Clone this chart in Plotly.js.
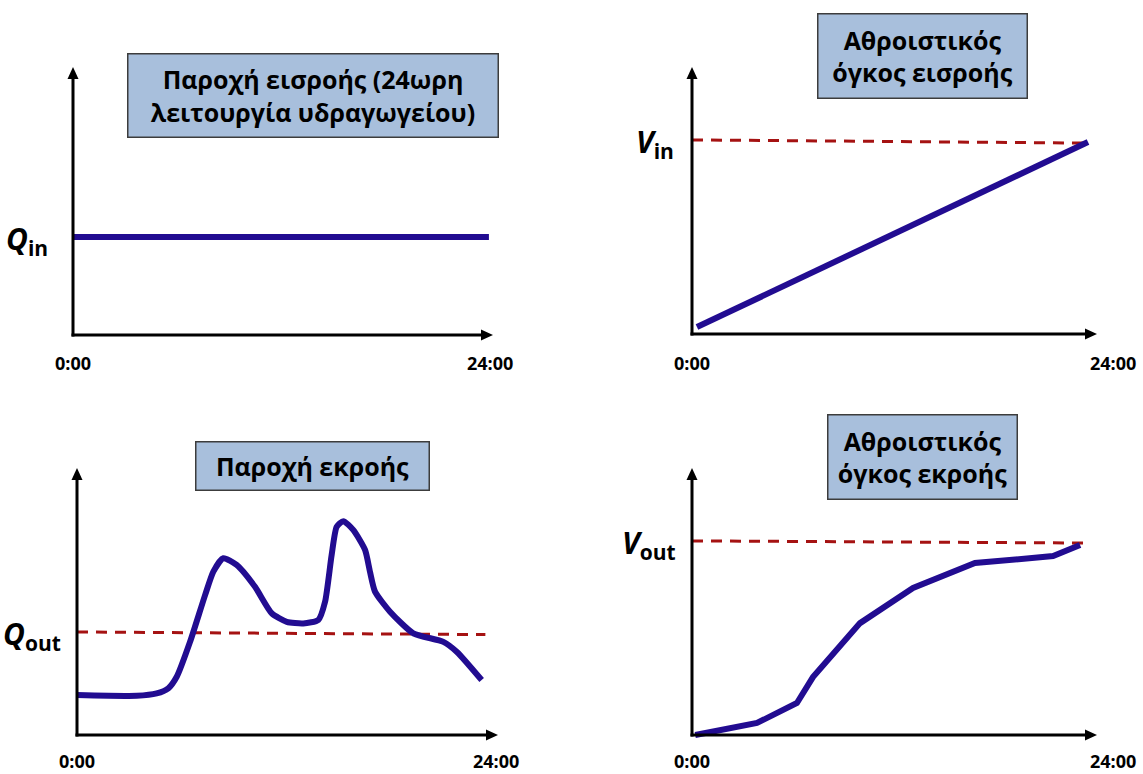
<!DOCTYPE html>
<html>
<head>
<meta charset="utf-8">
<script src="https://cdn.plot.ly/plotly-3.0.1.min.js"></script>
<style>html,body{margin:0;padding:0;background:#fff;}#chart{width:1143px;height:774px;}</style>
</head>
<body>
<div id="chart"></div>
<script>
// ---------- DATA ----------
const tickLabels = ['0:00', '24:00'];
const tickHours = [0, 24];

const panelTitles = [
  'Παροχή εισροής (24ωρη<br>λειτουργία υδραγωγείου)',
  'Αθροιστικός<br>όγκος εισροής',
  'Παροχή εκροής',
  'Αθροιστικός<br>όγκος εκροής'
];
const levelSymbols = ['Q', 'V', 'Q', 'V'];
const levelSubscripts = ['in', 'in', 'out', 'out'];

// Panel 1: inflow rate (constant)
const qInHours = [0, 24];
const qInValues = [36.6, 36.6];

// Panel 2: cumulative inflow volume
const vInHours = [0.3, 24];
const vInValues = [2.6, 71.9];
const vInRefHours = [0, 24];
const vInRefValues = [72.7, 71.5];

// Panel 3: outflow rate
const qOutHours = [0, 3.54, 4.72, 5.41, 5.91, 6.70, 7.59, 8.08, 8.67, 9.46, 10.55, 11.54, 12.43, 13.41, 14.30, 14.70, 15.09, 15.39, 15.78, 16.37, 17.07, 17.36, 17.66, 18.55, 19.93, 21.71, 22.50, 23.98];
const qOutValues = [15.0, 14.7, 15.6, 17.5, 21.8, 34.9, 52.4, 61.2, 66.2, 63.7, 55.5, 45.6, 42.4, 41.8, 43.1, 49.9, 67.4, 78.0, 80.1, 76.8, 69.3, 61.2, 53.7, 46.2, 38.1, 34.9, 31.2, 20.6];
const qOutRefHours = [0, 24.2];
const qOutRefValues = [38.6, 37.6];

// Panel 4: cumulative outflow volume
const vOutHours = [0.2, 4.02, 6.49, 7.48, 10.39, 13.67, 17.50, 22.33, 24];
const vOutValues = [0, 4.5, 12.0, 21.7, 41.9, 55.1, 64.4, 67.0, 71.2];
const vOutRefHours = [0, 24.4];
const vOutRefValues = [72.7, 71.9];

// ---------- LAYOUT GEOMETRY (pixels) ----------
const W = 1143, H = 774;
const geom = [
  {x0: 73,  y0: 335, sx: 17.33,  sy: 2.68, tipX: 493,  tipY: 67,  lab24: 490,  labY: 363, lvlX: 50,  box: {cx: 313,   cy: 95.5, w: 372, h: 85}},
  {x0: 692, y0: 334, sx: 16.5,   sy: 2.67, tipX: 1097, tipY: 67,  lab24: 1113, labY: 363, lvlX: 676, box: {cx: 922.5, cy: 56,   w: 211, h: 86}},
  {x0: 77,  y0: 735, sx: 16.875, sy: 2.67, tipX: 498,  tipY: 468, lab24: 496,  labY: 761, lvlX: 63,  box: {cx: 312.5, cy: 466,  w: 235, h: 50}},
  {x0: 692, y0: 735, sx: 16.17,  sy: 2.67, tipX: 1097, tipY: 468, lab24: 1113, labY: 761, lvlX: 678, box: {cx: 922.5, cy: 457,  w: 191, h: 86}}
];
const levelValues = [qInValues[0], vInRefValues[0], qOutRefValues[0], vOutRefValues[0]];

const FONT = 'Open Sans, Noto Sans, DejaVu Sans, sans-serif';
const CURVE = '#220C91';
const REF = '#A51212';
const BOX_FILL = '#A8BFDC';
const BOX_LINE = '#3C3C3C';
const HEAD_LEN = 12, HEAD_HALF = 5.5, AXIS_W = 3;

const layout = {
  width: W, height: H,
  margin: {l: 0, r: 0, t: 0, b: 0},
  paper_bgcolor: '#ffffff', plot_bgcolor: 'rgba(0,0,0,0)',
  showlegend: false, hovermode: false,
  annotations: [], shapes: []
};

geom.forEach((g, i) => {
  const n = i === 0 ? '' : String(i + 1);
  const xL = g.x0 - 12, xR = g.tipX + 12, yT = g.tipY - 12, yB = g.y0 + 12;
  const axCommon = {visible: false, showgrid: false, zeroline: false, fixedrange: true};
  layout['xaxis' + n] = Object.assign({}, axCommon, {
    domain: [xL / W, xR / W],
    range: [(xL - g.x0) / g.sx, (xR - g.x0) / g.sx],
    anchor: 'y' + n
  });
  layout['yaxis' + n] = Object.assign({}, axCommon, {
    domain: [(H - yB) / H, (H - yT) / H],
    range: [(g.y0 - yB) / g.sy, (g.y0 - yT) / g.sy],
    anchor: 'x' + n
  });
  const xr = 'x' + n, yr = 'y' + n;
  const tipH = (g.tipX - g.x0) / g.sx;
  const tipV = (g.y0 - g.tipY) / g.sy;
  const over = (AXIS_W / 2);
  // axis lines
  layout.shapes.push({type: 'line', xref: xr, yref: yr, layer: 'above',
    x0: -over / g.sx, y0: 0, x1: tipH - (HEAD_LEN - 2) / g.sx, y1: 0,
    line: {color: '#000', width: AXIS_W}});
  layout.shapes.push({type: 'line', xref: xr, yref: yr, layer: 'above',
    x0: 0, y0: -over / g.sy, x1: 0, y1: tipV - (HEAD_LEN - 2) / g.sy,
    line: {color: '#000', width: AXIS_W}});
  // arrow heads
  layout.shapes.push({type: 'path', xref: xr, yref: yr, layer: 'above',
    xsizemode: 'pixel', ysizemode: 'pixel', xanchor: tipH, yanchor: 0,
    path: 'M0,0 L' + (-HEAD_LEN) + ',' + (-HEAD_HALF) + ' L' + (-HEAD_LEN) + ',' + HEAD_HALF + ' Z',
    fillcolor: '#000', line: {width: 0}});
  layout.shapes.push({type: 'path', xref: xr, yref: yr, layer: 'above',
    xsizemode: 'pixel', ysizemode: 'pixel', xanchor: 0, yanchor: tipV,
    path: 'M0,0 L' + (-HEAD_HALF) + ',' + (-HEAD_LEN) + ' L' + HEAD_HALF + ',' + (-HEAD_LEN) + ' Z',
    fillcolor: '#000', line: {width: 0}});
  // tick labels
  [g.x0, g.lab24].forEach((px, k) => {
    layout.annotations.push({
      xref: 'paper', yref: 'paper', x: px / W, y: 1 - g.labY / H,
      xanchor: 'center', yanchor: 'middle', showarrow: false, borderpad: 0,
      text: '<b>' + tickLabels[k] + '</b>',
      font: {family: FONT, size: 18, color: '#000'}
    });
  });
  // level label (Q_in, V_in, ...)
  layout.annotations.push({
    xref: 'paper', yref: yr, x: g.lvlX / W, y: levelValues[i],
    xanchor: 'right', yanchor: 'middle', showarrow: false, yshift: -3,
    text: '<b><i>' + levelSymbols[i] + '</i></b><sub><b>' + levelSubscripts[i] + '</b></sub>',
    font: {family: FONT, size: 30, color: '#000'}
  });
  // title box
  layout.annotations.push({
    xref: 'paper', yref: 'paper', x: g.box.cx / W, y: 1 - g.box.cy / H,
    xanchor: 'center', yanchor: 'middle', showarrow: false,
    width: g.box.w - 3, height: g.box.h - 3, borderpad: 0,
    bgcolor: BOX_FILL, bordercolor: BOX_LINE, borderwidth: 1.5,
    text: '<b>' + panelTitles[i] + '</b>', align: 'center', valign: 'middle',
    font: {family: FONT, size: 25, color: '#000'}
  });
});

const traces = [
  {x: qInHours, y: qInValues, xaxis: 'x', yaxis: 'y', mode: 'lines', line: {color: CURVE, width: 6}},
  {x: vInRefHours, y: vInRefValues, xaxis: 'x2', yaxis: 'y2', mode: 'lines', line: {color: REF, width: 3, dash: '11px,8px'}},
  {x: vInHours, y: vInValues, xaxis: 'x2', yaxis: 'y2', mode: 'lines', line: {color: CURVE, width: 6}},
  {x: qOutRefHours, y: qOutRefValues, xaxis: 'x3', yaxis: 'y3', mode: 'lines', line: {color: REF, width: 3, dash: '11px,8px'}},
  {x: qOutHours, y: qOutValues, xaxis: 'x3', yaxis: 'y3', mode: 'lines', line: {color: CURVE, width: 6, shape: 'spline', smoothing: 0.6}},
  {x: vOutRefHours, y: vOutRefValues, xaxis: 'x4', yaxis: 'y4', mode: 'lines', line: {color: REF, width: 3, dash: '11px,8px'}},
  {x: vOutHours, y: vOutValues, xaxis: 'x4', yaxis: 'y4', mode: 'lines', line: {color: CURVE, width: 6}}
];

Plotly.newPlot('chart', traces, layout, {staticPlot: true, displayModeBar: false});
</script>
</body>
</html>
